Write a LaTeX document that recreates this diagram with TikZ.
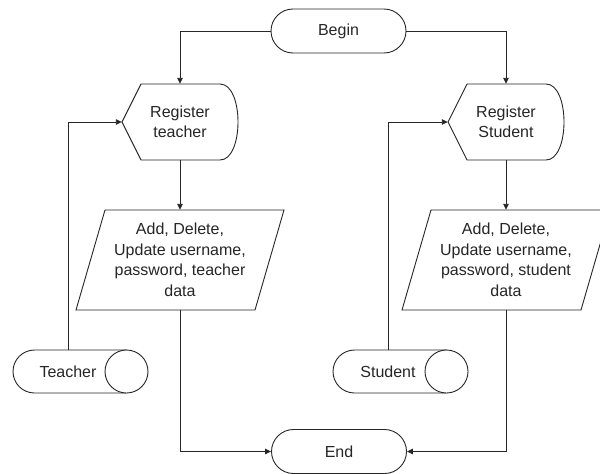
\documentclass[tikz,border=0pt]{standalone}
\usepackage{fontspec}
\setmainfont{Liberation Sans}
\usetikzlibrary{arrows.meta,shapes.misc}
\tikzset{
  ln/.style={draw=black!85, line width=0.9pt},
  arr/.style={ln, -{Triangle[length=6pt,width=5.5pt]}},
  lbl/.style={font=\fontsize{16}{20.5}\selectfont, text=black!85, inner sep=0pt, align=center},
  term/.style={lbl, ln, rounded rectangle, minimum width=135pt, minimum height=44pt},
}
\begin{document}
\begin{tikzpicture}[x=1pt,y=-1pt]
\useasboundingbox (0,0) rectangle (600,474);
% terminators
\node[term] (begin) at (338.5,31) {Begin};
\node[term] (end) at (339,451.5) {End};
% display shapes
\draw[ln, fill=white] (122,122) -- (141,84) -- (220,84) .. controls (244,84) and (244,160) .. (220,160) -- (141,160) -- cycle;
\draw[ln, fill=white] (448,122) -- (467,84) -- (546,84) .. controls (570,84) and (570,160) .. (546,160) -- (467,160) -- cycle;
\node[lbl, minimum width=116pt, minimum height=76pt] (rt) at (180,122) {Register\\teacher};
\node[lbl, minimum width=116pt, minimum height=76pt] (rs) at (506,122) {Register\\Student};
% parallelograms
\draw[ln, fill=white] (105,210) -- (284,210) -- (255,310) -- (76,310) -- cycle;
\draw[ln, fill=white] (431,210) -- (610,210) -- (581,310) -- (402,310) -- cycle;
\node[lbl, minimum height=100pt] (pt) at (180,260) {Add, Delete,\\Update username,\\password, teacher\\data};
\node[lbl, minimum height=100pt] (ps) at (506,260) {Add, Delete,\\Update username,\\password, student\\data};
% cylinders
\draw[ln, fill=white] (126.5,350) -- (34.5,350) .. controls (22.6,350) and (13,359.6) .. (13,371.5) .. controls (13,383.4) and (22.6,393) .. (34.5,393) -- (126.5,393);
\draw[ln, fill=white] (126.5,371.5) ellipse [x radius=21.5, y radius=21.5];
\draw[ln, fill=white] (446.5,350) -- (354.5,350) .. controls (342.6,350) and (333,359.6) .. (333,371.5) .. controls (333,383.4) and (342.6,393) .. (354.5,393) -- (446.5,393);
\draw[ln, fill=white] (446.5,371.5) ellipse [x radius=21.5, y radius=21.5];
\node[lbl, minimum height=43pt] (teacher) at (68,371.5) {Teacher};
\node[lbl, minimum height=43pt] (student) at (388,371.5) {Student};
% connectors
\draw[arr] (begin.west) -| (rt.north);
\draw[arr] (begin.east) -| (rs.north);
\draw[arr] (rt.south) -- (pt.north);
\draw[arr] (rs.south) -- (ps.north);
\draw[arr] (teacher.north) |- (rt.west);
\draw[arr] (student.north) |- (rs.west);
\draw[arr] (pt.south) |- (end.west);
\draw[arr] (ps.south) |- (end.east);
\end{tikzpicture}
\end{document}
